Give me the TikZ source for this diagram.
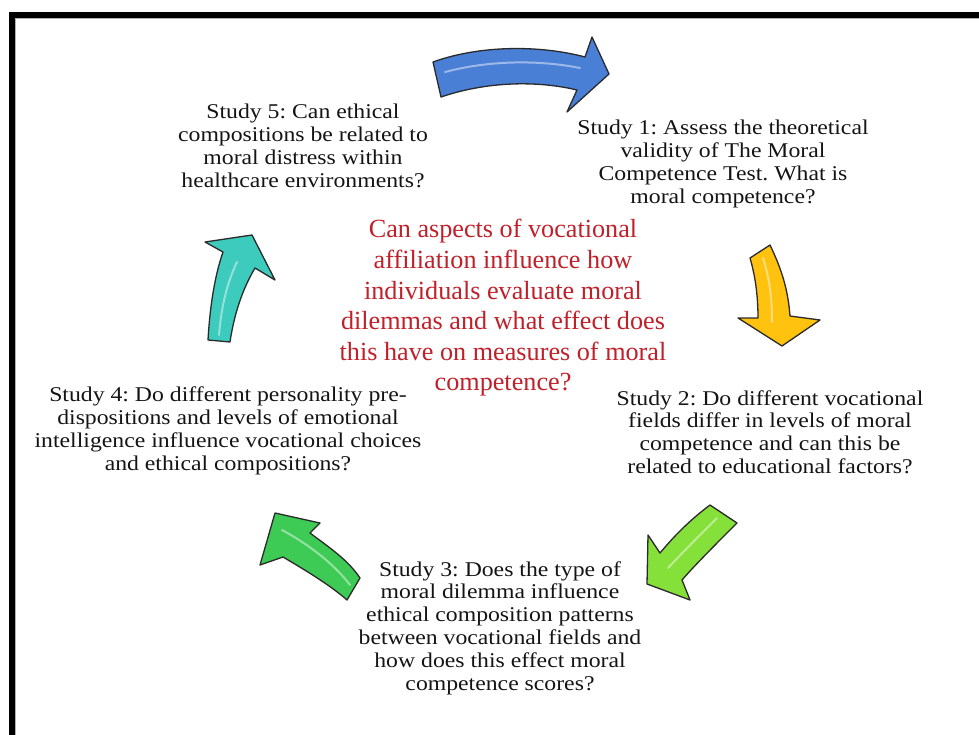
\documentclass[tikz,border=0pt]{standalone}
\usepackage{fontspec}
\setmainfont{Liberation Serif}
\newfontfamily\widefont[FakeStretch=1.13]{Liberation Serif}
\frenchspacing
\definecolor{ink}{HTML}{141414}
\definecolor{question}{HTML}{C0202A}
\definecolor{edge}{HTML}{2A2A2A}
\definecolor{bluefill}{HTML}{4A7FD6}
\definecolor{yellowfill}{HTML}{FFC20E}
\definecolor{limefill}{HTML}{86E03A}
\definecolor{greenfill}{HTML}{3DCB55}
\definecolor{tealfill}{HTML}{3CCBBC}

\begin{document}
\begin{tikzpicture}[x=1pt,y=-1pt,
  every node/.style={text=ink,inner sep=0pt,align=center},
  study/.style={font=\widefont\fontsize{21}{22.8}\selectfont},
  ask/.style={text=question,font=\fontsize{26.2}{30.6}\selectfont},
  block/.style={draw=edge,line width=1.3pt,line join=round},
  shine/.style={white,opacity=.45,line width=2pt,line cap=round}]
\useasboundingbox (0,0) rectangle (979,735);

% -------------------------------------------------------------------------
% Frame, cut off on the right and at the bottom.
% -------------------------------------------------------------------------
\draw[line width=6pt] (12,15) rectangle (1010,770);
\draw[gray!60,line width=.8pt] (15.5,18.5) rectangle (1010,770);

% -------------------------------------------------------------------------
% Studies round the central question.
% -------------------------------------------------------------------------
\node[ask] (q) at (503,308)
  {Can aspects of vocational\\affiliation influence how\\individuals evaluate moral\\
   dilemmas and what effect does\\this have on measures of moral\\competence?};
\node[study] (s5) at (303,146)
  {Study 5: Can ethical\\compositions be related to\\moral distress within\\healthcare environments?};
\node[study] (s1) at (723,164)
  {Study 1: Assess the theoretical\\validity of The Moral\\Competence Test. What is\\moral competence?};
\node[study] (s2) at (770,432)
  {Study 2: Do different vocational\\fields differ in levels of moral\\competence and can this be\\related to educational factors?};
\node[study] (s3) at (500,628)
  {Study 3: Does the type of\\moral dilemma influence\\ethical composition patterns\\between vocational fields and\\
   how does this effect moral\\competence scores?};
\node[study] (s4) at (228,431)
  {Study 4: Do different personality pre-\\dispositions and levels of emotional\\
   intelligence influence vocational choices\\and ethical compositions?};

% -------------------------------------------------------------------------
% Block arrows between the studies.
% -------------------------------------------------------------------------
% 5 -> 1
\draw[block,fill=bluefill] (433,62) .. controls (480,45) and (540,45) .. (585,57)
  -- (592,37) -- (609,74) -- (567,112) -- (577,90)
  .. controls (535,80) and (485,82) .. (441,97) -- cycle;
\draw[shine] (445,72) .. controls (490,60) and (540,60) .. (580,68);
% 1 -> 2
\draw[block,fill=yellowfill] (750,258) -- (770,245)
  .. controls (782,270) and (788,290) .. (790,316)
  -- (820,320) -- (782,346) -- (738,318) -- (758,318)
  .. controls (758,295) and (755,275) .. (750,258) -- cycle;
\draw[shine] (763,258) .. controls (770,280) and (772,300) .. (772,322);
% 2 -> 3
\draw[block,fill=limefill] (710,505) -- (737,523)
  .. controls (715,545) and (695,565) .. (682,580)
  -- (690,600) -- (647,584) -- (648,535) -- (660,553)
  .. controls (675,535) and (690,520) .. (710,505) -- cycle;
\draw[shine] (717,518) .. controls (700,535) and (683,552) .. (668,568);
% 3 -> 4
\draw[block,fill=greenfill] (275,513) -- (320,523) -- (310,533)
  .. controls (330,548) and (348,560) .. (360,578)
  -- (347,600) .. controls (330,585) and (305,570) .. (283,557)
  -- (260,565) -- cycle;
\draw[shine] (282,530) .. controls (310,545) and (335,565) .. (350,585);
% 4 -> 5
\draw[block,fill=tealfill] (252,235) -- (275,280) -- (255,268)
  .. controls (242,290) and (234,315) .. (230,342)
  -- (208,340) .. controls (210,305) and (215,275) .. (223,252)
  -- (205,242) -- cycle;
\draw[shine] (237,262) .. controls (226,285) and (221,310) .. (219,335);
\end{tikzpicture}
\end{document}
